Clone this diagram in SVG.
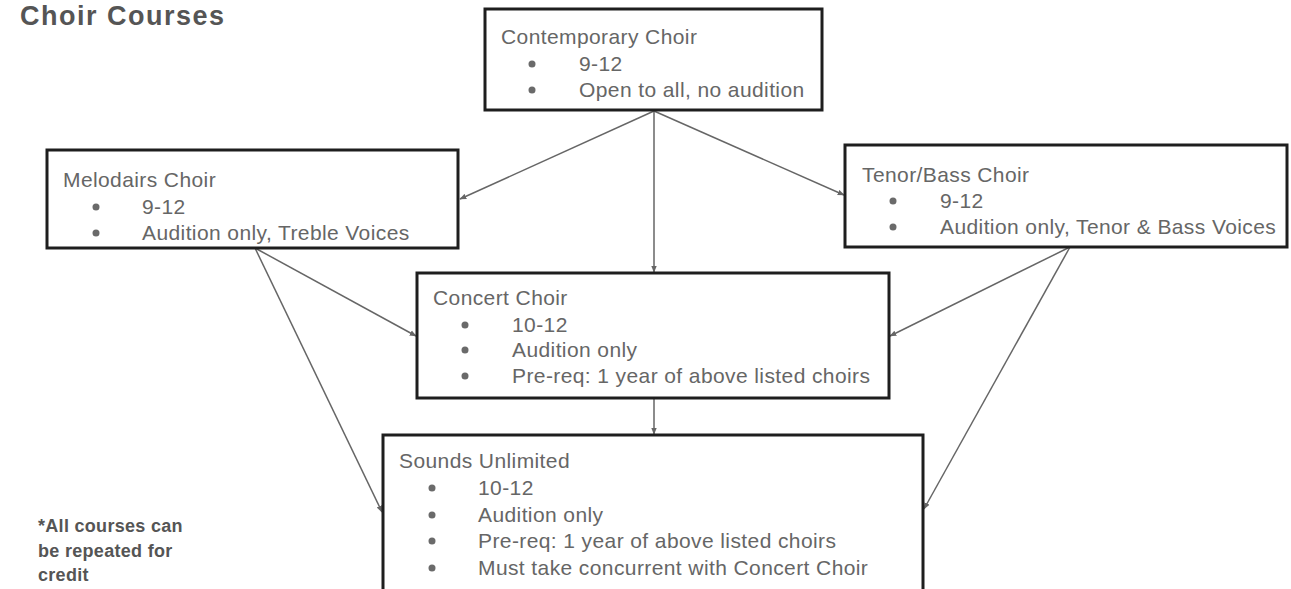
<svg xmlns="http://www.w3.org/2000/svg" width="1291" height="589" viewBox="0 0 1291 589">
<defs>
<style>
.box{fill:#fff;stroke:#1e1e1e;stroke-width:3}
.t{font-family:"Liberation Sans",Arial,sans-serif;font-size:21px;fill:#666;letter-spacing:0.4px}
.b{fill:#6a6a6a}
.c{stroke:#666;stroke-width:1.5;fill:none;marker-end:url(#ah)}
.title{font-family:"Liberation Sans",Arial,sans-serif;font-weight:bold;fill:#555}
</style>
<marker id="ah" viewBox="0 0 10 10" refX="9" refY="5" markerWidth="7" markerHeight="7" orient="auto" markerUnits="userSpaceOnUse">
<path d="M0,1 L10,5 L0,9 Z" fill="#666"/>
</marker>
</defs>
<rect width="1291" height="589" fill="#fff"/>
<text class="title" x="20" y="25" font-size="27" letter-spacing="1.5">Choir Courses</text>
<text class="title" font-size="18" letter-spacing="0.3"><tspan x="38" y="532">*All courses can</tspan><tspan x="38" y="557">be repeated for</tspan><tspan x="38" y="581">credit</tspan></text>

<g id="connectors">
<line class="c" x1="654" y1="111" x2="460" y2="199"/>
<line class="c" x1="654" y1="111" x2="654" y2="272"/>
<line class="c" x1="654" y1="111" x2="844" y2="195"/>
<line class="c" x1="255" y1="248" x2="416" y2="336"/>
<line class="c" x1="255" y1="248" x2="382" y2="512"/>
<line class="c" x1="1070" y1="247" x2="890" y2="336"/>
<line class="c" x1="1070" y1="247" x2="924" y2="509"/>
<line class="c" x1="654" y1="398" x2="654" y2="434"/>
</g>

<g id="contemporary">
<rect class="box" x="485" y="9" width="337" height="101"/>
<text class="t" x="501" y="44">Contemporary Choir</text>
<circle class="b" cx="532" cy="64" r="3.5"/><text class="t" x="579" y="71">9-12</text>
<circle class="b" cx="532" cy="90" r="3.5"/><text class="t" x="579" y="97">Open to all, no audition</text>
</g>

<g id="melodairs">
<rect class="box" x="47" y="150" width="411" height="98"/>
<text class="t" x="63" y="187">Melodairs Choir</text>
<circle class="b" cx="96" cy="207" r="3.5"/><text class="t" x="142" y="214">9-12</text>
<circle class="b" cx="96" cy="233" r="3.5"/><text class="t" x="142" y="240">Audition only, Treble Voices</text>
</g>

<g id="tenorbass">
<rect class="box" x="845" y="145" width="442" height="102"/>
<text class="t" x="862" y="182">Tenor/Bass Choir</text>
<circle class="b" cx="893" cy="201" r="3.5"/><text class="t" x="940" y="208">9-12</text>
<circle class="b" cx="893" cy="227" r="3.5"/><text class="t" x="940" y="234">Audition only, Tenor &amp; Bass Voices</text>
</g>

<g id="concert">
<rect class="box" x="417" y="273" width="472" height="125"/>
<text class="t" x="433" y="305">Concert Choir</text>
<circle class="b" cx="465" cy="325" r="3.5"/><text class="t" x="512" y="332">10-12</text>
<circle class="b" cx="465" cy="350" r="3.5"/><text class="t" x="512" y="357">Audition only</text>
<circle class="b" cx="465" cy="376" r="3.5"/><text class="t" x="512" y="383">Pre-req: 1 year of above listed choirs</text>
</g>

<g id="sounds">
<rect class="box" x="383" y="435" width="540" height="170"/>
<text class="t" x="399" y="468">Sounds Unlimited</text>
<circle class="b" cx="432" cy="488" r="3.5"/><text class="t" x="478" y="495">10-12</text>
<circle class="b" cx="432" cy="515" r="3.5"/><text class="t" x="478" y="522">Audition only</text>
<circle class="b" cx="432" cy="541" r="3.5"/><text class="t" x="478" y="548">Pre-req: 1 year of above listed choirs</text>
<circle class="b" cx="432" cy="568" r="3.5"/><text class="t" x="478" y="575">Must take concurrent with Concert Choir</text>
</g>
</svg>
